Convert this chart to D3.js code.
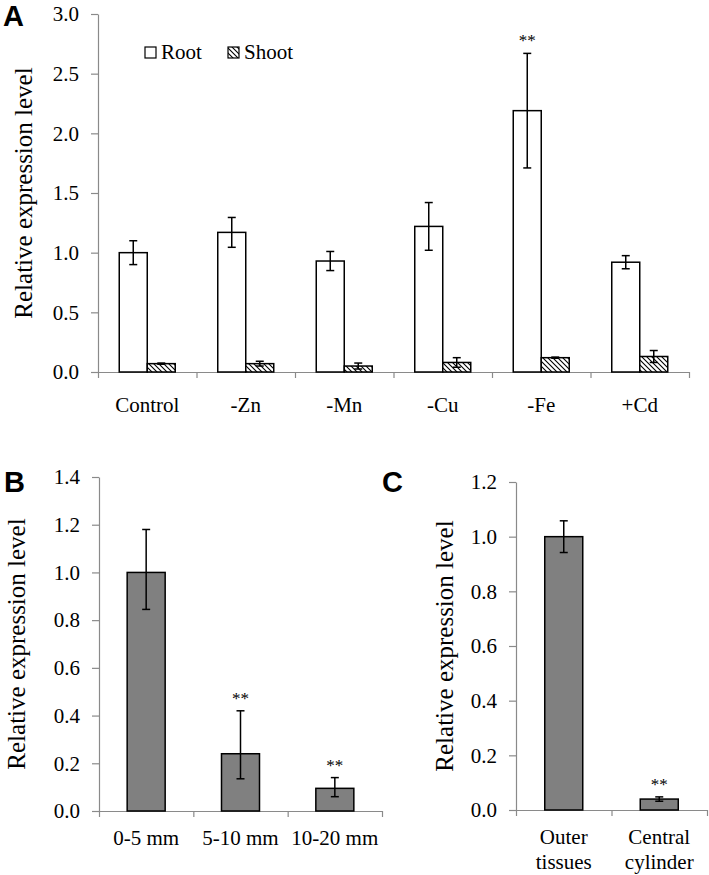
<!DOCTYPE html>
<html>
<head>
<meta charset="utf-8">
<script src="https://cdn.jsdelivr.net/npm/d3@7"></script>
<style>
  body { margin: 0; background: #fff; }
  svg { display: block; }
</style>
</head>
<body>
<script>
// ---- data -------------------------------------------------------------

const A_CATEGORIES = ['Control', '-Zn', '-Mn', '-Cu', '-Fe', '+Cd']
const A_SERIES = ['Root', 'Shoot']
const A_ROOT = [1.0, 1.17, 0.93, 1.22, 2.19, 0.92]
const A_ROOT_ERR = [0.1, 0.125, 0.08, 0.2, 0.48, 0.055]
const A_SHOOT = [0.07, 0.07, 0.05, 0.08, 0.12, 0.13]
const A_SHOOT_ERR = [0.005, 0.02, 0.025, 0.04, 0.005, 0.05]
const A_SIG = ['', '', '', '', '**', '']
const A_TICKS = [0, 0.5, 1.0, 1.5, 2.0, 2.5, 3.0]

const B_CATEGORIES = ['0-5 mm', '5-10 mm', '10-20 mm']
const B_VALUES = [1.0, 0.24, 0.095]
const B_ERR_UP = [0.18, 0.18, 0.045]
const B_ERR_DOWN = [0.155, 0.105, 0.035]
const B_SIG = ['', '**', '**']
const B_TICKS = [0, 0.2, 0.4, 0.6, 0.8, 1.0, 1.2, 1.4]

const C_CATEGORIES = [['Outer', 'tissues'], ['Central', 'cylinder']]
const C_VALUES = [1.0, 0.04]
const C_ERR = [0.058, 0.008]
const C_SIG = ['', '**']
const C_TICKS = [0, 0.2, 0.4, 0.6, 0.8, 1.0, 1.2]

// ---- styles -----------------------------------------------------------

const WIDTH = 709
const HEIGHT = 875
const SERIF = '"Liberation Serif", "Times New Roman", serif'
const AXIS_COLOR = '#8a8a8a'
const TICK_FONT = 21
const LABEL_FONT = 25
const CAP = 4

const svg = d3.select('body').append('svg')
  .attr('width', WIDTH)
  .attr('height', HEIGHT)

svg.append('rect').attr('width', WIDTH).attr('height', HEIGHT).attr('fill', '#fff')

const defs = svg.append('defs')
defs.append('pattern')
  .attr('id', 'hatch')
  .attr('patternUnits', 'userSpaceOnUse')
  .attr('width', 5)
  .attr('height', 5)
  .call(p => {
    p.append('rect').attr('width', 5).attr('height', 5).attr('fill', '#fff')
    p.append('path')
      .attr('d', 'M0,0 L5,5 M-1,4 L1,6 M4,-1 L6,1')
      .attr('stroke', '#000')
      .attr('stroke-width', 1.1)
  })

function styleAxis (g) {
  g.selectAll('path, line').attr('stroke', AXIS_COLOR).attr('stroke-width', 1.2)
  g.selectAll('text')
    .attr('fill', '#000')
    .style('font-family', SERIF)
    .style('font-size', TICK_FONT + 'px')
  return g
}

function yAxis (y, ticks, x0) {
  svg.append('g')
    .attr('transform', `translate(${x0},0)`)
    .call(d3.axisLeft(y).tickValues(ticks).tickSize(7).tickSizeOuter(0)
      .tickPadding(12).tickFormat(d3.format('.1f')))
    .call(styleAxis)
}

function xAxis (x, y0) {
  // band boundary ticks
  const [r0, r1] = x.range()
  const n = x.domain().length
  const edges = d3.scaleLinear().domain([0, n]).range([r0, r1])
  svg.append('g')
    .attr('transform', `translate(0,${y0})`)
    .call(d3.axisBottom(edges).tickValues(d3.range(n + 1)).tickSize(6)
      .tickSizeOuter(0).tickFormat(''))
    .call(styleAxis)
}

function yLabel (x, yMid) {
  svg.append('text')
    .attr('transform', `translate(${x},${yMid}) rotate(-90)`)
    .attr('text-anchor', 'middle')
    .style('font-family', SERIF)
    .style('font-size', LABEL_FONT + 'px')
    .text('Relative expression level')
}

function panelLetter (t, x, y) {
  svg.append('text')
    .attr('x', x).attr('y', y)
    .style('font-family', '"Liberation Sans", Arial, sans-serif')
    .style('font-weight', 'bold')
    .style('font-size', '29px')
    .text(t)
}

function errorBar (g, cx, yTop, yBot) {
  g.append('line').attr('x1', cx).attr('x2', cx).attr('y1', yTop).attr('y2', yBot)
  g.append('line').attr('x1', cx - CAP).attr('x2', cx + CAP).attr('y1', yTop).attr('y2', yTop)
  g.append('line').attr('x1', cx - CAP).attr('x2', cx + CAP).attr('y1', yBot).attr('y2', yBot)
}

function star (text, cx, yTop) {
  if (!text) return
  svg.append('text')
    .attr('x', cx).attr('y', yTop - 7)
    .attr('text-anchor', 'middle')
    .style('font-family', SERIF)
    .style('font-size', '17px')
    .text(text)
}

function singleBars (cats, values, errUp, errDown, sig, x, y, barW) {
  const bars = svg.append('g')
  const eb = svg.append('g').attr('stroke', '#000').attr('stroke-width', 1.5)
  cats.forEach((c, i) => {
    const cx = x(c) + x.bandwidth() / 2
    const v = values[i]
    bars.append('rect')
      .attr('x', cx - barW / 2)
      .attr('y', y(v))
      .attr('width', barW)
      .attr('height', y(0) - y(v))
      .attr('fill', '#808080')
      .attr('stroke', '#000')
      .attr('stroke-width', 1.5)
    errorBar(eb, cx, y(v + errUp[i]), y(v - errDown[i]))
    star(sig[i], cx, y(v + errUp[i]))
  })
}

// ---- panel A ----------------------------------------------------------

{
  const x = d3.scaleBand().domain(A_CATEGORIES).range([98, 689])
  const y = d3.scaleLinear().domain([0, 3]).range([372, 14])
  const barW = 28
  const sub = d3.scaleBand().domain(A_SERIES).range([-barW, barW])
  const values = { Root: A_ROOT, Shoot: A_SHOOT }
  const errs = { Root: A_ROOT_ERR, Shoot: A_SHOOT_ERR }

  yAxis(y, A_TICKS, 98)
  xAxis(x, 372)

  const bars = svg.append('g')
  const eb = svg.append('g').attr('stroke', '#000').attr('stroke-width', 1.5)
  A_SERIES.forEach(s => {
    A_CATEGORIES.forEach((c, i) => {
      const cx = x(c) + x.bandwidth() / 2
      const v = values[s][i]
      const e = errs[s][i]
      bars.append('rect')
        .attr('x', cx + sub(s))
        .attr('y', y(v))
        .attr('width', sub.bandwidth())
        .attr('height', y(0) - y(v))
        .attr('fill', s === 'Root' ? '#fff' : 'url(#hatch)')
        .attr('stroke', '#000')
        .attr('stroke-width', 1.5)
      errorBar(eb, cx + sub(s) + sub.bandwidth() / 2, y(v + e), y(v - e))
      if (s === 'Root') star(A_SIG[i], cx + sub(s) + sub.bandwidth() / 2, y(v + e))
    })
  })

  // category labels
  svg.append('g').selectAll('text').data(A_CATEGORIES).join('text')
    .attr('x', d => x(d) + x.bandwidth() / 2)
    .attr('y', 412)
    .attr('text-anchor', 'middle')
    .style('font-family', SERIF)
    .style('font-size', TICK_FONT + 'px')
    .text(d => d)

  // legend
  const legend = svg.append('g')
  const legX = [145, 228]
  A_SERIES.forEach((s, i) => {
    legend.append('rect')
      .attr('x', legX[i]).attr('y', 47)
      .attr('width', 11).attr('height', 11)
      .attr('fill', s === 'Root' ? '#fff' : 'url(#hatch)')
      .attr('stroke', '#000').attr('stroke-width', 1.2)
    legend.append('text')
      .attr('x', legX[i] + 16).attr('y', 59)
      .style('font-family', SERIF)
      .style('font-size', TICK_FONT + 'px')
      .text(s)
  })

  yLabel(32, 193)
  panelLetter('A', 3, 26)
}

// ---- panel B ----------------------------------------------------------

{
  const x = d3.scaleBand().domain(B_CATEGORIES).range([99, 382])
  const y = d3.scaleLinear().domain([0, 1.4]).range([811, 477])

  yAxis(y, B_TICKS, 99)
  xAxis(x, 811)
  singleBars(B_CATEGORIES, B_VALUES, B_ERR_UP, B_ERR_DOWN, B_SIG, x, y, 38)

  svg.append('g').selectAll('text').data(B_CATEGORIES).join('text')
    .attr('x', d => x(d) + x.bandwidth() / 2)
    .attr('y', 845)
    .attr('text-anchor', 'middle')
    .style('font-family', SERIF)
    .style('font-size', TICK_FONT + 'px')
    .text(d => d)

  yLabel(25, 644)
  panelLetter('B', 4, 492)
}

// ---- panel C ----------------------------------------------------------

{
  const names = C_CATEGORIES.map(d => d.join(' '))
  const x = d3.scaleBand().domain(names).range([516, 707])
  const y = d3.scaleLinear().domain([0, 1.2]).range([810, 482])

  yAxis(y, C_TICKS, 516)
  xAxis(x, 810)
  singleBars(names, C_VALUES, C_ERR, C_ERR, C_SIG, x, y, 38)

  svg.append('g').selectAll('text').data(C_CATEGORIES).join('text')
    .attr('x', (d, i) => x(names[i]) + x.bandwidth() / 2)
    .attr('y', 844)
    .attr('text-anchor', 'middle')
    .style('font-family', SERIF)
    .style('font-size', TICK_FONT + 'px')
    .selectAll('tspan').data(d => d).join('tspan')
      .attr('x', function () { return this.parentNode.getAttribute('x') })
      .attr('dy', (d, i) => i === 0 ? 0 : 25)
      .text(d => d)

  yLabel(453, 646)
  panelLetter('C', 382, 492)
}
</script>
</body>
</html>
